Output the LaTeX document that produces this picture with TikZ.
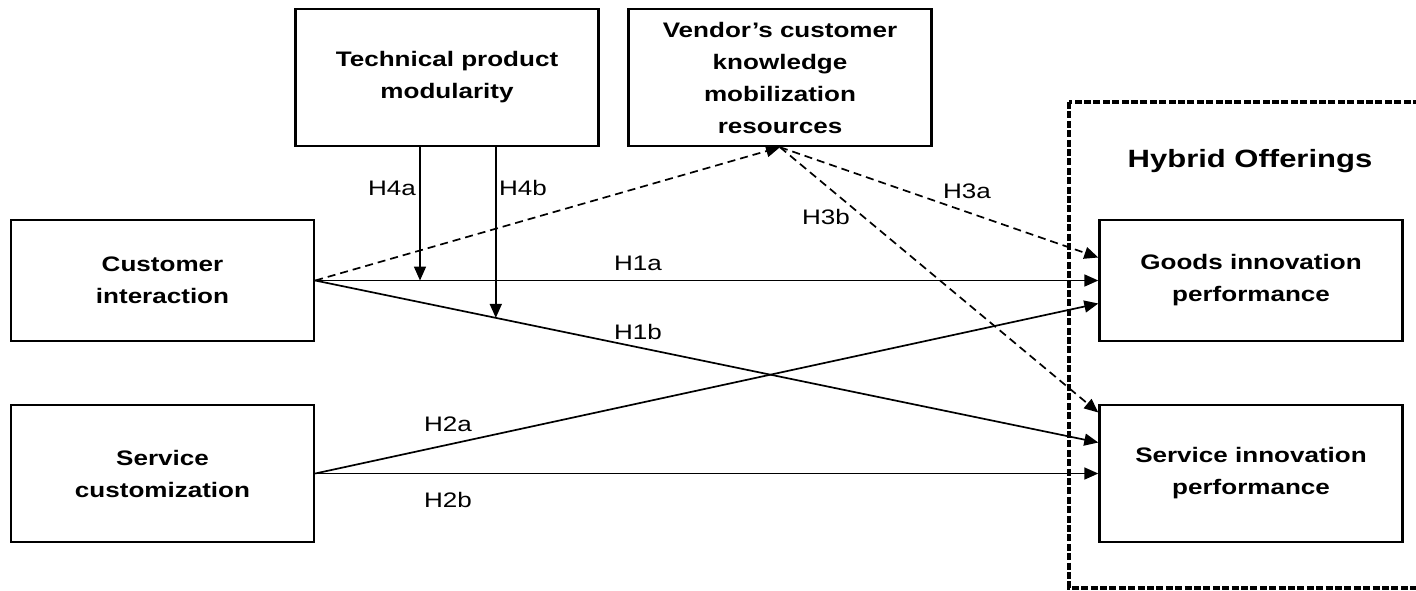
\documentclass[tikz,border=0pt]{standalone}
\usepackage{fontspec}
\setmainfont[FakeStretch=1.24]{Liberation Sans}
\usetikzlibrary{arrows.meta, calc}
\tikzstyle{factor}      = [rectangle,
                           minimum width=151.5pt,
                           minimum height=60.5pt,
                           inner sep=0pt,
                           align=center,
                           draw=black,
                           line width=1.2pt,
                           font=\fontsize{10.5}{16}\selectfont\bfseries]
\tikzstyle{tallFactor}  = [factor, minimum height=68.5pt]
\tikzstyle{hLabel}      = [inner sep=0pt, anchor=base,
                           font=\fontsize{10.5}{12}\selectfont]
\tikzstyle{arrow}       = [line width=0.85pt, -{Triangle[length=7pt, width=6pt]}]
\tikzstyle{dashedArrow} = [arrow, dash pattern=on 4pt off 2.5pt]
\tikzstyle{hybridFrame} = [line width=1.6pt, dash pattern=on 3.5pt off 1.2pt]

\begin{document}
\begin{tikzpicture}[x=0.5pt, y=-0.5pt]
\clip (0,0) rectangle (1416,590);

\node [factor] (custInter) at (162.5,280.5) {Customer \\ interaction};
\node [tallFactor] (servCust) at ([shift={(0,193)}] custInter) {Service \\ customization};

\node [tallFactor] (techMod)    at ([shift={(284.5,-203)}] custInter) {Technical product \\ modularity};
\node [tallFactor] (vendorKnow) at ([shift={(333,0)}] techMod) {
    Vendor’s customer \\ knowledge \\ mobilization \\ resources
    };

\node [factor] (goodsPerf)     at ([shift={(1088.5,0)}] custInter) {Goods innovation \\ performance};
\node [tallFactor] (servPerf)  at ([shift={(1088.5,0)}] servCust) {Service innovation \\ performance};

% hybrid offerings frame
\draw [hybridFrame] (1069,102) rectangle (1440,588);
\node [inner sep=0pt, anchor=base, font=\fontsize{12.5}{14}\selectfont\bfseries]
    (hybridTitle) at (1250,167) {Hybrid Offerings};

\coordinate (h1bEnd) at ([yshift=15.5pt] servPerf.west);
\coordinate (h4bEnd) at ($(custInter.east)!0.2306!(h1bEnd)$);
\coordinate (h4aTop) at ([xshift=-13.5pt] techMod.south);

\draw [arrow] (custInter.east) -- (goodsPerf.west);
\draw [arrow] (custInter.east) -- (h1bEnd);
\draw [arrow] (servCust.east) -- ([yshift=-11.5pt] goodsPerf.west);
\draw [arrow] (servCust.east) -- (servPerf.west);

\draw [dashedArrow] (custInter.east) -- (vendorKnow.south);
\draw [dashedArrow] (vendorKnow.south) -- ([yshift=11.5pt] goodsPerf.west);
\draw [dashedArrow] (vendorKnow.south) -- ([yshift=30.5pt] servPerf.west);

\draw [arrow] (h4aTop) -- (h4aTop |- custInter.east);
\draw [arrow] (h4bEnd |- techMod.south) -- (h4bEnd);

\node [hLabel] (lblH1a) at (638,270) {H1a};
\node [hLabel] (lblH1b) at (638,339) {H1b};
\node [hLabel] (lblH2a) at (448,431) {H2a};
\node [hLabel] (lblH2b) at (448,507) {H2b};
\node [hLabel] (lblH3a) at (967,198) {H3a};
\node [hLabel] (lblH3b) at (826,224) {H3b};
\node [hLabel] (lblH4a) at (392,195) {H4a};
\node [hLabel] (lblH4b) at (523,195) {H4b};

\end{tikzpicture}
\end{document}
